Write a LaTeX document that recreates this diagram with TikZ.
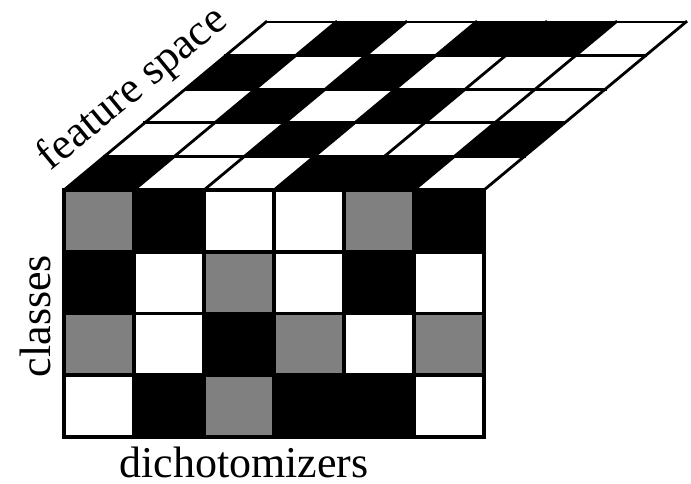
\documentclass[tikz,border=0pt]{standalone}
\usepackage{fontspec}
\setmainfont{Liberation Serif}
\definecolor{cG}{HTML}{808080}
\definecolor{cB}{HTML}{000000}
\definecolor{cW}{HTML}{FFFFFF}
\tikzset{
  lbl/.style={font=\fontsize{44}{44}\selectfont, inner sep=0pt},
  frontgrid/.style={line width=3.6pt, line cap=rect, line join=miter},
  topgrid/.style={line width=2.8pt, line cap=rect, line join=miter},
}
\begin{document}
\begin{tikzpicture}[x=1pt,y=-1pt]
\useasboundingbox (0,0) rectangle (691,484);
\fill[white] (0,0) rectangle (691,484);
% front face cells
\foreach \row [count=\k from 0] in {{G,B,W,W,G,B},{B,W,G,W,B,W},{G,W,B,G,W,G},{W,B,G,B,B,W}} {
  \foreach \c [count=\i from 0] in \row {
    \fill[c\c] ({64+70*\i},{190+61.75*\k}) rectangle ++(70,61.75);
  }
}
% top face cells (front row first)
\foreach \row [count=\j from 0] in {{B,W,W,B,B,W},{W,W,B,W,W,B},{W,B,W,B,W,W},{B,W,B,W,W,W},{W,B,W,B,B,W}} {
  \foreach \c [count=\i from 0] in \row {
    \fill[c\c] ({64+70*\i+40.4*\j},{190-33.6*\j}) -- ++(70,0) -- ++(40.4,-33.6) -- ++(-70,0) -- cycle;
  }
}
% top grid
\foreach \i in {0,...,6} {
  \draw[topgrid] ({64+70*\i},190) -- ++(202,-168);
}
\foreach \j in {0,...,5} {
  \draw[topgrid] ({64+40.4*\j},{190-33.6*\j}) -- ++(420,0);
}
% front grid
\foreach \i in {0,...,6} {
  \draw[frontgrid] ({64+70*\i},190) -- ({64+70*\i},437);
}
\foreach \k in {0,...,4} {
  \draw[frontgrid] (64,{190+61.75*\k}) -- (484,{190+61.75*\k});
}
% labels
\node[lbl, rotate=39.5, anchor=base] (fs) at (140,98) {feature space};
\node[lbl, rotate=90, anchor=base] (cl) at (50,316) {classes};
\node[lbl, anchor=base] (dc) at (244,477) {dichotomizers};
\end{tikzpicture}
\end{document}
